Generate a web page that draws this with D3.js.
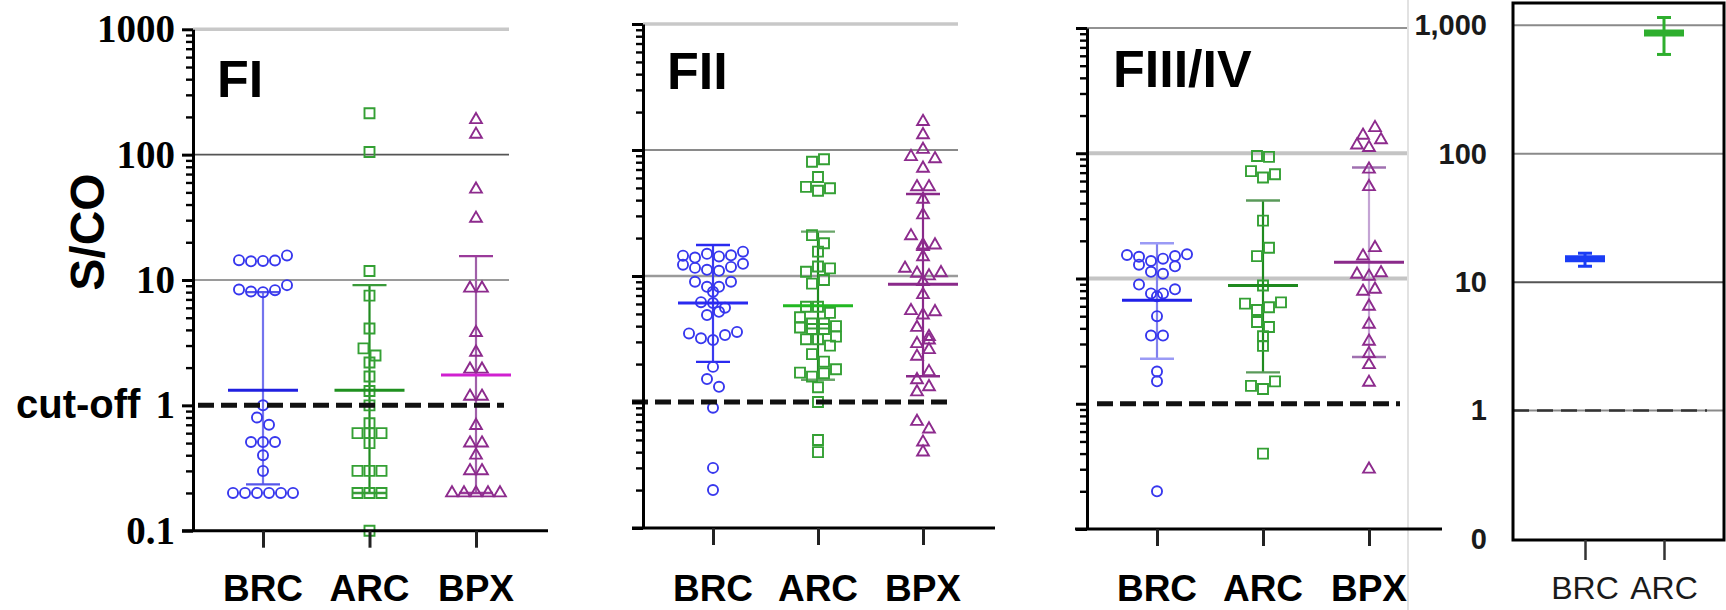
<!DOCTYPE html>
<html>
<head>
<meta charset="utf-8">
<script src="https://cdn.jsdelivr.net/npm/d3@7"></script>
<style>
  html, body { margin: 0; padding: 0; background: #fff; }
  svg { display: block; }
</style>
</head>
<body>
<svg id="chart" width="1726" height="610"></svg>
<script>
// ---- data -------------------------------------------------------------
const groups = ["BRC", "ARC", "BPX"];

// S/CO values per patient group, FI panel
const fiBRC = [14.4, 14.1, 14.2, 14.3, 15.7, 8.4, 8.1, 8.0, 8.3, 9.1, 1.0, 0.80, 0.70,
  0.51, 0.51, 0.51, 0.40, 0.30, 0.2, 0.2, 0.2, 0.2, 0.2, 0.2];
const fiARC = [214, 105, 11.8, 7.5, 4.1, 2.85, 2.5, 2.2, 1.7, 1.3, 1.0, 0.72, 0.6, 0.6, 0.6,
  0.5, 0.3, 0.3, 0.3, 0.2, 0.2, 0.2, 0.1];
const fiBPX = [190, 145, 53, 31, 8.6, 8.6, 3.8, 2.65, 1.94, 1.94, 1.18, 1.18, 0.69, 0.5, 0.5,
  0.4, 0.3, 0.3, 0.2, 0.2, 0.2, 0.2, 0.2];
const fiMedian = [1.32, 1.32, 1.75];
const fiLow = [0.234, 0.2, 0.2];
const fiHigh = [8.0, 9.1, 15.5];

// FII panel
const fiiBRC = [14.5, 14.0, 15.0, 14.3, 14.6, 15.6, 12.3, 11.6, 11.2, 11.0, 11.8, 12.5,
  9.0, 8.2, 8.2, 9.0, 7.5, 6.2, 6.1, 5.6, 4.9, 5.2, 3.5, 3.2, 3.1, 3.4, 3.6,
  1.9, 1.52, 1.32, 0.9, 0.30, 0.20];
const fiiARC = [80.7, 84.4, 61, 51, 47.5, 49.7, 21.1, 18.2, 15.6, 10.8, 11.9, 11.5, 8.7, 9.3,
  5.7, 5.7, 5.1, 4.7, 4.2, 4.2, 4.0, 3.9, 3.8, 3.8, 3.3, 3.15, 3.15, 2.8, 2.4, 2.09,
  1.71, 1.59, 1.69, 1.82, 1.31, 1.0, 0.50, 0.40];
const fiiBPX = [168, 132, 88.5, 101, 85, 71.6, 51, 51, 40.6, 30.5, 20.8, 17.6, 17.1, 17.6, 14.2,
  11.5, 10.5, 10.0, 10.6, 9.0, 7.1, 5.3, 4.9, 5.2, 3.9, 3.3, 2.9, 3.1, 2.3, 2.6,
  1.5, 1.74, 1.2, 1.32, 0.70, 0.61, 0.48, 0.40];
const fiiMedian = [6.1, 5.8, 8.6];
const fiiLow = [2.08, 1.5, 1.6];
const fiiHigh = [17.6, 22.5, 44.8];

// FIII/IV panel
const fiiiBRC = [15.4, 14.9, 13.8, 14.4, 15.1, 15.6, 12.9, 11.3, 10.9, 12.5, 8.95, 7.6, 7.2,
  7.6, 8.2, 5.0, 3.5, 3.5, 1.81, 1.51, 0.2];
const fiiiARC = [95, 93.5, 72, 64, 68, 29, 15.1, 17.6, 8.8, 6.3, 5.6, 5.9, 6.45, 4.5, 4.1,
  3.46, 2.9, 1.39, 1.31, 1.51, 0.40];
const fiiiBPX = [139, 160, 116, 111, 128, 74.5, 54, 15.1, 17.6, 10.8, 10.4, 11.1, 7.9, 8.2,
  6.0, 4.3, 3.15, 2.51, 2.05, 1.48, 0.30];
const fiiiMedian = [6.7, 8.8, 13.5];
const fiiiLow = [2.29, 1.78, 2.36];
const fiiiHigh = [19.1, 42, 77];

// Summary panel (mean with error range)
const ratioCats = ["BRC", "ARC"];
const ratioMean = [15.2, 871];
const ratioLow = [13.3, 593];
const ratioHigh = [16.8, 1150];

// Axis ticks
const majorTicks = [0.1, 1, 10, 100, 1000];
const majorTickLabels = ["0.1", "1", "10", "100", "1000"];
const ratioTickLabels = ["0", "1", "10", "100", "1,000"];
const cutoff = 1;

// ---- drawing ----------------------------------------------------------
const svg = d3.select("#chart");
const SANS = "'Liberation Sans', Arial, sans-serif";
const SERIF = "'Liberation Serif', 'Times New Roman', serif";

const symbolType = { BRC: d3.symbolCircle, ARC: d3.symbolSquare, BPX: d3.symbolTriangle };
const symbolSize = { BRC: 80, ARC: 100, BPX: 60 };
const pointColor = { BRC: "#3737ee", ARC: "#34a034", BPX: "#8d2b8d" };

const minorTicks = [];
majorTicks.slice(0, -1).forEach(t => { for (let m = 2; m <= 9; m++) minorTicks.push(+(t * m).toPrecision(3)); });

// group points into horizontal rows and centre every row on its column
function swarm(values, y, step) {
  const items = values.map((v, i) => ({ v, i, y: y(v) }));
  const sorted = items.slice().sort((a, b) => a.y - b.y || a.i - b.i);
  const rows = [];
  let row = [];
  sorted.forEach(p => {
    if (row.length && p.y - row[0].y > step * 0.8) { rows.push(row); row = []; }
    row.push(p);
  });
  if (row.length) rows.push(row);
  const out = [];
  rows.forEach(r => {
    r.sort((a, b) => a.i - b.i);
    r.forEach((p, k) => { p.dx = (k - (r.length - 1) / 2) * step; out.push(p); });
  });
  return out;
}

const panels = [
  {
    title: "FI", series: [fiBRC, fiARC, fiBPX], median: fiMedian, low: fiLow, high: fiHigh,
    axisX: 193, yBottom: 530.7, yTop: 29.3, xRange: [263, 476], axisStart: 182, axisEnd: 548,
    gridEnd: 509, dash: [198, 504], titlePos: [217, 97], labels: true,
    grid: [{ v: 1000, c: "#c8c8c8", w: 3.5 }, { v: 100, c: "#555", w: 1.6 }, { v: 10, c: "#9a9a9a", w: 2.2 }],
    medianColor: { BRC: "#2020e0", ARC: "#1f901f", BPX: "#d020d0" },
    barColor: { BRC: "#7474ee", ARC: "#1f8a1f", BPX: "#a060a8" },
    capColor: { BRC: "#5656ea", ARC: "#3a9a3a", BPX: "#9a3a9a" }
  },
  {
    title: "FII", series: [fiiBRC, fiiARC, fiiBPX], median: fiiMedian, low: fiiLow, high: fiiHigh,
    axisX: 643, yBottom: 528, yTop: 24, xRange: [713, 923], axisStart: 632, axisEnd: 995,
    gridEnd: 958, dash: [632, 953], titlePos: [667, 89], labels: false,
    grid: [{ v: 1000, c: "#c8c8c8", w: 3.5 }, { v: 100, c: "#8a8a8a", w: 2 }, { v: 10, c: "#9a9a9a", w: 2.4 }],
    medianColor: { BRC: "#2a2af0", ARC: "#22b822", BPX: "#8a2a8a" },
    barColor: { BRC: "#3a3af0", ARC: "#1f8a1f", BPX: "#8a2a8a" },
    capColor: { BRC: "#2a2af0", ARC: "#6aa66a", BPX: "#8a2a8a" }
  },
  {
    title: "FIII/IV", series: [fiiiBRC, fiiiARC, fiiiBPX], median: fiiiMedian, low: fiiiLow, high: fiiiHigh,
    axisX: 1087, yBottom: 529, yTop: 28, xRange: [1157, 1369], axisStart: 1075, axisEnd: 1442,
    gridEnd: 1407, dash: [1097, 1400], titlePos: [1113, 87], labels: false,
    grid: [{ v: 1000, c: "#6e6e6e", w: 1.6 }, { v: 100, c: "#c4c4c4", w: 4 }, { v: 10, c: "#c4c4c4", w: 4 }],
    medianColor: { BRC: "#2020e8", ARC: "#1f8a1f", BPX: "#8a2a8a" },
    barColor: { BRC: "#8080ee", ARC: "#1f8a1f", BPX: "#c4a4d4" },
    capColor: { BRC: "#9a9af5", ARC: "#5a9a5a", BPX: "#a070b0" }
  }
];

// thin separator between the three scatter panels and the summary panel
svg.append("line").attr("x1", 1408).attr("x2", 1408).attr("y1", 0).attr("y2", 610)
  .attr("stroke", "#e2e2e2").attr("stroke-width", 2);

panels.forEach(p => {
  const g = svg.append("g");
  const y = d3.scaleLog().domain([0.1, 1000]).range([p.yBottom, p.yTop]);
  const x = d3.scalePoint().domain(groups).range(p.xRange);

  // horizontal reference lines
  g.selectAll("line.grid").data(p.grid).join("line")
    .attr("x1", p.axisX).attr("x2", p.gridEnd)
    .attr("y1", d => y(d.v)).attr("y2", d => y(d.v))
    .attr("stroke", d => d.c).attr("stroke-width", d => d.w);

  // SD bars
  groups.forEach((grp, i) => {
    const cx = x(grp);
    g.append("line").attr("x1", cx).attr("x2", cx)
      .attr("y1", y(p.low[i])).attr("y2", y(p.high[i]))
      .attr("stroke", p.barColor[grp]).attr("stroke-width", 2.2);
    [p.low[i], p.high[i]].forEach(v => {
      g.append("line").attr("x1", cx - 17).attr("x2", cx + 17)
        .attr("y1", y(v)).attr("y2", y(v))
        .attr("stroke", p.capColor[grp]).attr("stroke-width", 2.4);
    });
  });

  // individual samples
  groups.forEach((grp, i) => {
    const pts = swarm(p.series[i], y, 12);
    g.selectAll(null).data(pts).join("path")
      .attr("d", d3.symbol().type(symbolType[grp]).size(symbolSize[grp]))
      .attr("transform", d => `translate(${x(grp) + d.dx},${d.y})`)
      .attr("fill", "none").attr("stroke", pointColor[grp]).attr("stroke-width", 1.9);
  });

  // medians
  groups.forEach((grp, i) => {
    const cx = x(grp);
    g.append("line").attr("x1", cx - 35).attr("x2", cx + 35)
      .attr("y1", y(p.median[i])).attr("y2", y(p.median[i]))
      .attr("stroke", p.medianColor[grp]).attr("stroke-width", 3);
  });

  // cut-off line
  g.append("line").attr("x1", p.dash[0]).attr("x2", p.dash[1])
    .attr("y1", y(cutoff)).attr("y2", y(cutoff))
    .attr("stroke", "#111").attr("stroke-width", 5).attr("stroke-dasharray", "16 7");

  // y axis with log ticks
  const major = d3.axisLeft(y).tickValues(majorTicks).tickSize(11).tickSizeOuter(0)
    .tickPadding(7).tickFormat((d, k) => p.labels ? majorTickLabels[k] : "");
  const ga = g.append("g").attr("transform", `translate(${p.axisX},0)`).call(major);
  ga.select(".domain").attr("stroke", "#000").attr("stroke-width", 3);
  ga.selectAll(".tick line").attr("stroke", "#000").attr("stroke-width", 3);
  ga.selectAll(".tick text").attr("font-family", SERIF).attr("font-weight", "bold")
    .attr("font-size", 39).attr("fill", "#000");
  const minor = d3.axisLeft(y).tickValues(minorTicks).tickSize(7).tickFormat("");
  const gm = g.append("g").attr("transform", `translate(${p.axisX},0)`).call(minor);
  gm.select(".domain").remove();
  gm.selectAll(".tick line").attr("stroke", "#000").attr("stroke-width", 2.4);

  // x axis
  g.append("line").attr("x1", p.axisStart).attr("x2", p.axisEnd)
    .attr("y1", p.yBottom).attr("y2", p.yBottom)
    .attr("stroke", "#000").attr("stroke-width", 3);
  const gx = g.append("g").attr("transform", `translate(0,${p.yBottom})`)
    .call(d3.axisBottom(x).tickSize(17).tickFormat(""));
  gx.select(".domain").remove();
  gx.selectAll(".tick line").attr("stroke", "#222").attr("stroke-width", 3);
  g.selectAll("text.cat").data(groups).join("text")
    .attr("x", d => x(d)).attr("y", 601).attr("text-anchor", "middle")
    .attr("font-family", SANS).attr("font-weight", "bold").attr("font-size", 37)
    .attr("fill", "#000").text(d => d);

  // panel title
  g.append("text").attr("x", p.titlePos[0]).attr("y", p.titlePos[1])
    .attr("font-family", SANS).attr("font-weight", "bold").attr("font-size", 52)
    .attr("fill", "#000").text(p.title);
});

// y axis title and cut-off note
svg.append("text").attr("transform", "translate(87,232) rotate(-90)")
  .attr("text-anchor", "middle").attr("dominant-baseline", "central")
  .attr("font-family", SANS).attr("font-weight", "bold").attr("font-size", 48)
  .attr("fill", "#000").text("S/CO");
svg.append("text").attr("x", 16).attr("y", 418)
  .attr("font-family", SANS).attr("font-weight", "bold").attr("font-size", 40)
  .attr("fill", "#000").text("cut-off");

// ---- summary panel ----------------------------------------------------
{
  const g = svg.append("g");
  const left = 1513, right = 1724, top = 3, bottom = 540;
  const y = d3.scaleLog().domain([0.1, 1000]).range([539, 25.3]);
  const x = d3.scalePoint().domain(ratioCats).range([1585, 1664]);
  const col = { BRC: "#1a3cf5", ARC: "#2eae2e" };

  g.selectAll("line.grid").data(majorTicks.slice(1)).join("line")
    .attr("x1", left).attr("x2", right).attr("y1", d => y(d)).attr("y2", d => y(d))
    .attr("stroke", d => d === 10 ? "#555" : "#8a8a8a").attr("stroke-width", 2);
  g.append("line").attr("x1", left).attr("x2", 1707).attr("y1", y(cutoff)).attr("y2", y(cutoff))
    .attr("stroke", "#333").attr("stroke-width", 2.5).attr("stroke-dasharray", "16 8");

  g.append("rect").attr("x", left).attr("y", top).attr("width", right - left).attr("height", bottom - top)
    .attr("fill", "none").attr("stroke", "#000").attr("stroke-width", 3);

  const ay = d3.axisLeft(y).tickValues(majorTicks).tickSize(0).tickPadding(26)
    .tickFormat((d, k) => ratioTickLabels[k]);
  const ga = g.append("g").attr("transform", `translate(${left},0)`).call(ay);
  ga.select(".domain").remove();
  ga.selectAll(".tick text").attr("font-family", SANS).attr("font-weight", "bold")
    .attr("font-size", 29).attr("fill", "#1a1a1a");

  const gx = g.append("g").attr("transform", `translate(0,${bottom})`)
    .call(d3.axisBottom(x).tickSize(20).tickFormat(""));
  gx.select(".domain").remove();
  gx.selectAll(".tick line").attr("stroke", "#333").attr("stroke-width", 2.5);
  g.selectAll("text.cat").data(ratioCats).join("text")
    .attr("x", d => x(d)).attr("y", 599).attr("text-anchor", "middle")
    .attr("font-family", SANS).attr("font-size", 32).attr("fill", "#1a1a1a").text(d => d);

  ratioCats.forEach((c, i) => {
    const cx = x(c);
    g.append("line").attr("x1", cx).attr("x2", cx).attr("y1", y(ratioLow[i])).attr("y2", y(ratioHigh[i]))
      .attr("stroke", col[c]).attr("stroke-width", 3);
    [ratioLow[i], ratioHigh[i]].forEach(v => {
      g.append("line").attr("x1", cx - 7).attr("x2", cx + 7).attr("y1", y(v)).attr("y2", y(v))
        .attr("stroke", col[c]).attr("stroke-width", 3);
    });
    g.append("line").attr("x1", cx - 20).attr("x2", cx + 20)
      .attr("y1", y(ratioMean[i])).attr("y2", y(ratioMean[i]))
      .attr("stroke", col[c]).attr("stroke-width", 7);
  });
}
</script>
</body>
</html>
